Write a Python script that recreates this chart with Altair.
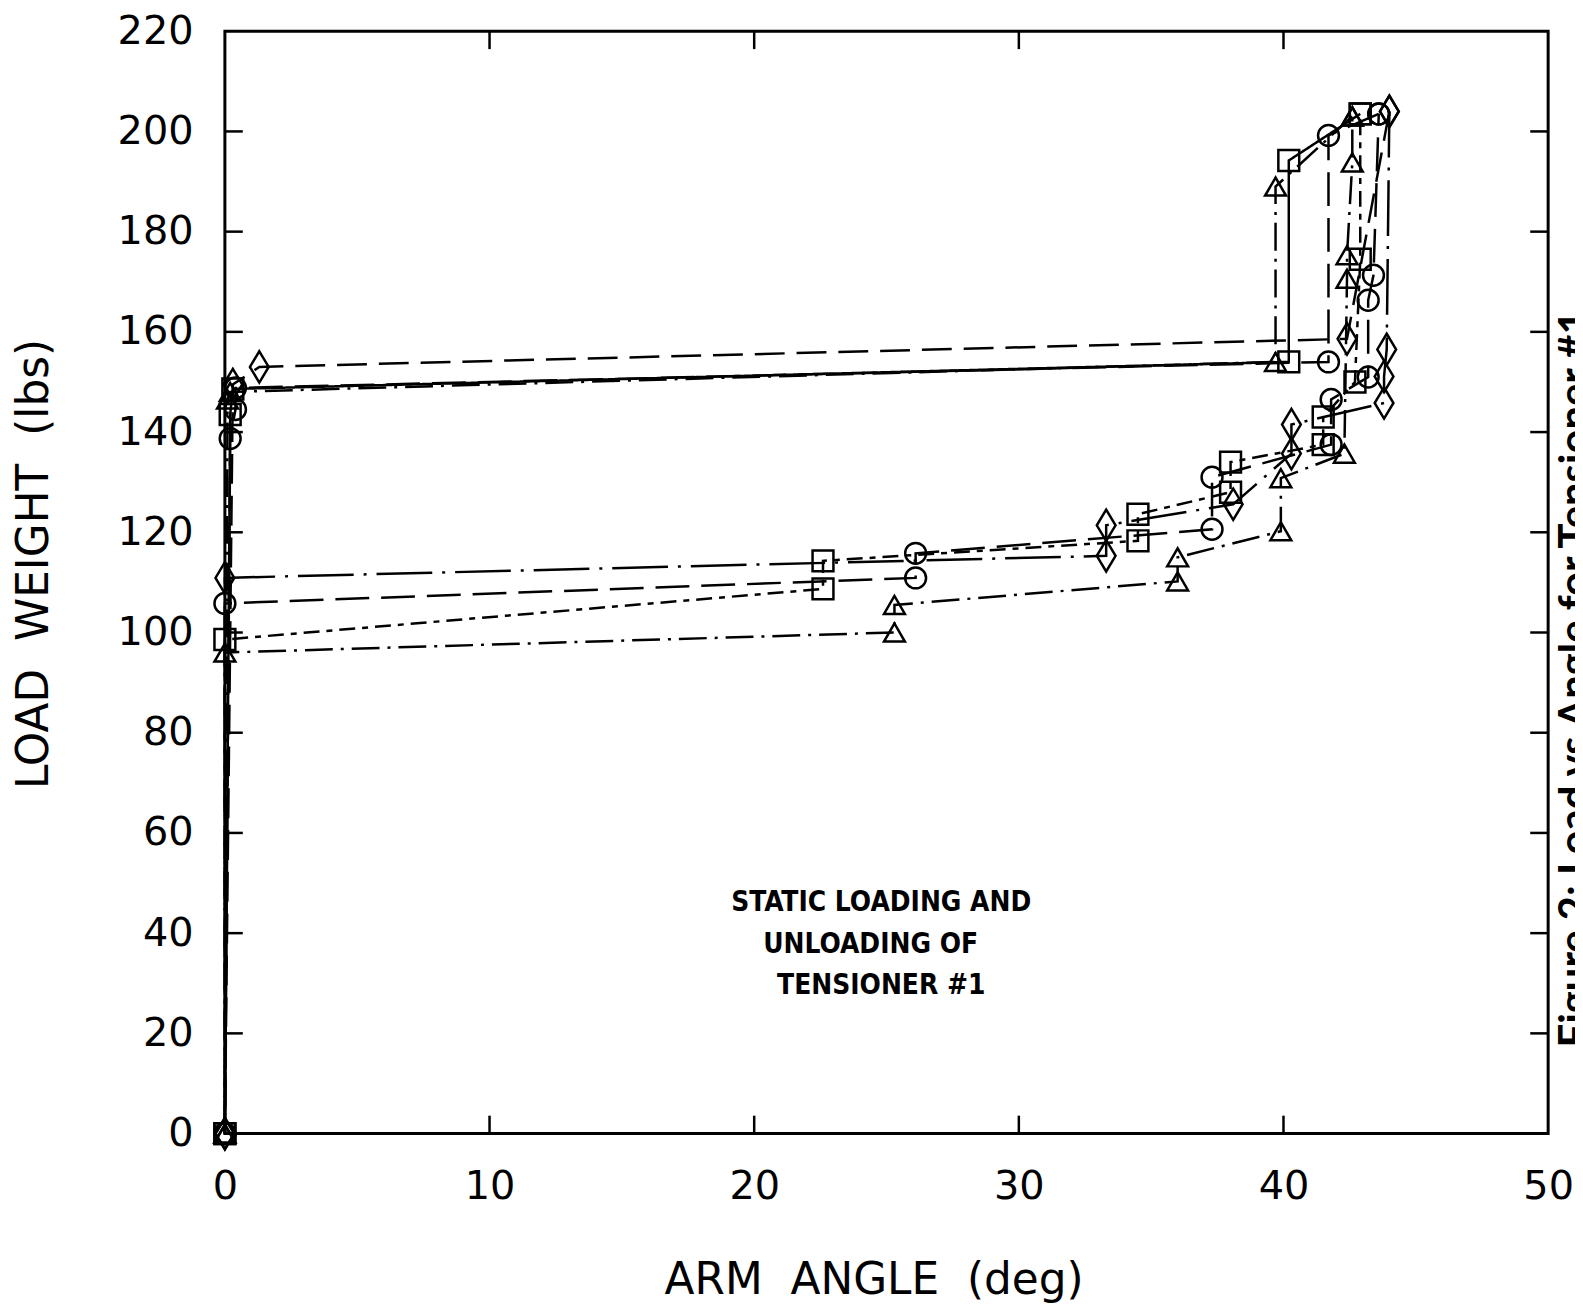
import altair as alt
import pandas as pd

# ---- data (arm angle in deg, load in lbs) ----
circle_load_x = [0, 0, 26.1, 26.1, 37.3, 37.3, 41.8, 41.8, 43.2, 43.2, 43.4, 43.6]
circle_load_y = [0, 105.8, 110.9, 115.8, 120.6, 131.0, 137.5, 146.5, 151.0, 166.3, 171.3, 203.5]
circle_unload_x = [43.6, 41.7, 41.7, 0.4, 0.4, 0.2, 0]
circle_unload_y = [203.5, 199.2, 154.0, 148.8, 144.5, 138.7, 0]

square_load_x = [0, 0, 22.6, 22.6, 34.5, 34.5, 38.0, 38.0, 41.5, 41.5, 42.7, 42.9, 42.9]
square_load_y = [0, 98.6, 108.7, 114.3, 118.3, 123.6, 128.0, 134.0, 137.5, 143.0, 150.0, 174.5, 203.5]
square_unload_x = [42.9, 40.2, 40.2, 0.3, 0.2, 0]
square_unload_y = [203.5, 194.2, 154.0, 148.6, 143.5, 0]

triangle_load_x = [0, 0, 25.3, 25.3, 36.0, 36.0, 39.9, 39.9, 42.3, 42.4, 42.4, 42.6, 42.6]
triangle_load_y = [0, 96.0, 100.0, 105.5, 110.2, 115.0, 120.2, 130.8, 135.7, 170.6, 175.3, 193.8, 203.0]
triangle_unload_x = [42.6, 39.7, 39.7, 0.2, 0.1, 0]
triangle_unload_y = [203.0, 189.0, 154.0, 148.0, 146.5, 0]

diamond_load_x = [0, 0, 33.3, 33.3, 38.1, 40.3, 40.3, 43.8, 43.8, 43.9, 44.0]
diamond_load_y = [0, 110.9, 115.3, 121.4, 125.6, 135.7, 141.5, 145.8, 151.1, 156.5, 204.0]
diamond_unload_x = [44.0, 42.4, 1.3, 0.3, 0]
diamond_unload_y = [204.0, 158.6, 153.0, 149.5, 0]

x_tick_labels = [0, 10, 20, 30, 40, 50]
y_tick_labels = [0, 20, 40, 60, 80, 100, 120, 140, 160, 180, 200, 220]
inner_x_ticks = [10, 20, 30, 40]
inner_y_ticks = [20, 40, 60, 80, 100, 120, 140, 160, 180, 200]

note_lines = ["STATIC LOADING AND", "UNLOADING OF", "TENSIONER #1"]
note_x = [24.8, 24.4, 24.8]
note_y = [46.1, 37.7, 29.4]

caption = ["Figure 2: Load vs Angle for Tensioner #1"]

NB = "\u00a0"
x_title = f"ARM{NB}{NB}ANGLE{NB}{NB}(deg)"
y_title = f"LOAD{NB}{NB}WEIGHT{NB}{NB}(lbs)"

# ---- build table ----
rows = []
def add(series, part, xs, ys):
    for i, (xv, yv) in enumerate(zip(xs, ys)):
        rows.append({"series": series, "path": f"{series} {part}", "x": xv, "y": yv, "order": i})

add("circle", "load", circle_load_x, circle_load_y)
add("circle", "unload", circle_unload_x, circle_unload_y)
add("square", "load", square_load_x, square_load_y)
add("square", "unload", square_unload_x, square_unload_y)
add("triangle", "load", triangle_load_x, triangle_load_y)
add("triangle", "unload", triangle_unload_x, triangle_unload_y)
add("diamond", "load", diamond_load_x, diamond_load_y)
add("diamond", "unload", diamond_unload_x, diamond_unload_y)
df = pd.DataFrame(rows)

W, H = 1330, 1108
TL = 18

xscale = alt.Scale(domain=[0, 50], nice=False, zero=False)
yscale = alt.Scale(domain=[0, 220], nice=False, zero=False)

path_domain = ["circle load", "circle unload", "square load", "square unload",
               "triangle load", "triangle unload", "diamond load", "diamond unload"]
dash_range = [[34, 12], [34, 12], [16, 7, 6, 7], [1, 0],
              [28, 8, 3, 8], [28, 8, 3, 8], [56, 10, 3, 10], [30, 12]]

shape_domain = ["circle", "square", "triangle", "diamond"]
shape_range = ["circle", "square", "triangle-up", "M0,-1.5L0.9,0L0,1.5L-0.9,0Z"]

x_axis = alt.Axis(values=x_tick_labels, ticks=False, domain=False, grid=False,
                  labelFontSize=40, labelFont="DejaVu Sans", labelColor="black",
                  labelPadding=33, labelFlush=False, labelOverlap=False, title=x_title,
                  titleFont="DejaVu Sans", titleFontSize=44, titleFontWeight="normal",
                  titleColor="black", titleX=652, titleY=148, titleAlign="center",
                  titleBaseline="middle")
y_axis = alt.Axis(values=y_tick_labels, ticks=False, domain=False, grid=False,
                  labelFontSize=40, labelFont="DejaVu Sans", labelColor="black",
                  labelPadding=32, labelFlush=False, labelOverlap=False, title=y_title,
                  titleFont="DejaVu Sans", titleFontSize=44, titleFontWeight="normal",
                  titleColor="black", titleAngle=270, titleX=-191, titleY=535,
                  titleAlign="center", titleBaseline="middle")

X = alt.X("x:Q", scale=xscale, axis=x_axis)
Y = alt.Y("y:Q", scale=yscale, axis=y_axis)

lines = alt.Chart(df).mark_line(color="black", strokeWidth=2.5).encode(
    x=X, y=Y,
    order="order:Q",
    detail="path:N",
    strokeDash=alt.StrokeDash("path:N", scale=alt.Scale(domain=path_domain, range=dash_range), legend=None),
)

points = alt.Chart(df).mark_point(filled=False, color="black", strokeWidth=2.5,
                                  size=440, opacity=1).encode(
    x=X, y=Y,
    shape=alt.Shape("series:N", scale=alt.Scale(domain=shape_domain, range=shape_range), legend=None),
)

ydf = pd.DataFrame({"y": inner_y_ticks})
xdf = pd.DataFrame({"x": inner_x_ticks})
left_ticks = alt.Chart(ydf).mark_rule(color="black", strokeWidth=2.5).encode(
    y=Y, x=alt.value(0), x2=alt.value(TL))
right_ticks = alt.Chart(ydf).mark_rule(color="black", strokeWidth=2.5).encode(
    y=Y, x=alt.value(W - TL), x2=alt.value(W))
bottom_ticks = alt.Chart(xdf).mark_rule(color="black", strokeWidth=2.5).encode(
    x=X, y=alt.value(H - TL), y2=alt.value(H))
top_ticks = alt.Chart(xdf).mark_rule(color="black", strokeWidth=2.5).encode(
    x=X, y=alt.value(0), y2=alt.value(TL))

note = alt.Chart(pd.DataFrame({"t": note_lines, "x": note_x, "y": note_y})).mark_text(
    font="Liberation Sans Narrow, DejaVu Sans Condensed, Liberation Sans",
    fontWeight="bold", fontSize=28, color="black",
    align="center", baseline="middle").encode(
    x=X, y=Y, text="t:N")

cap = alt.Chart(pd.DataFrame({"t": caption})).mark_text(
    font="Lato", fontWeight="bold", fontSize=42, color="black",
    angle=270, align="center", baseline="top").encode(
    x=alt.value(W + 8), y=alt.value(651), text="t:N")

chart = alt.layer(lines, points, left_ticks, right_ticks, bottom_ticks, top_ticks, note, cap).properties(
    width=W, height=H,
    autosize=alt.AutoSizeParams(type="none"),
    padding={"left": 218, "top": 20, "right": 27, "bottom": 176},
).configure_view(stroke="black", strokeWidth=3)

chart.save("out.html", embed_options={"renderer": "svg", "actions": False})
